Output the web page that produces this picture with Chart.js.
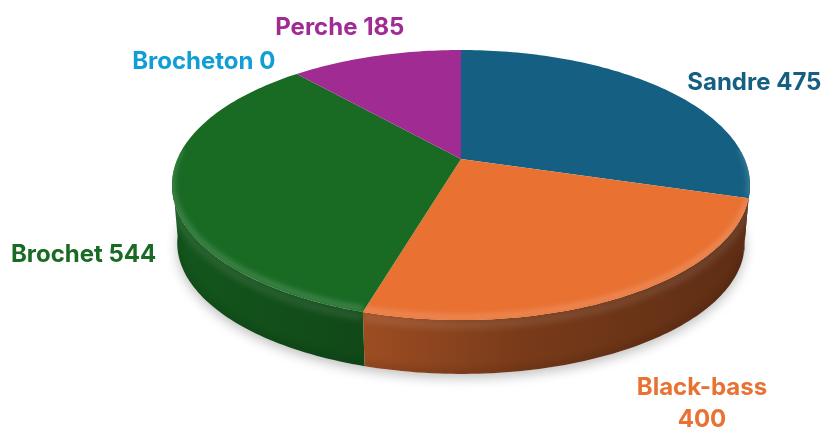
<!DOCTYPE html>
<html><head><meta charset="utf-8">
<script src="https://cdn.jsdelivr.net/npm/chart.js@4.4.0/dist/chart.umd.min.js"></script>
<style>html,body{margin:0;padding:0;background:#fff}canvas{display:block}</style>
</head><body>
<canvas id="c" width="824" height="428"></canvas>
<script>
// ---- data ----
const categories = ['Sandre', 'Black-bass', 'Brochet', 'Brocheton', 'Perche'];
const values = [475, 400, 544, 0, 185];
const sliceColors = ['#156082', '#E97132', '#196B24', '#0F9ED5', '#A02B93'];

// ---- style / layout ----
const labelWrap = [false, true, false, false, false];
const labelNudge = [[89.5, -8], [78, 106], [-88.5, 65], [-93, -13], [-36, -29.5]];
const BETA = -0.193;          // perspective shift of the pie centre
const DEPTH = 58;             // thickness of the pie
const BOT_SX = 0.982, BOT_SY = 0.97;
const FONT = 'bold 24px Inter, "Open Sans", sans-serif';

function rgb(hex){ const n=parseInt(hex.slice(1),16); return [(n>>16)&255,(n>>8)&255,n&255]; }
function shade(hex,f){ const c=rgb(hex); return 'rgb('+c.map(v=>Math.round(v*f)).join(',')+')'; }
function lighten(hex,f){ const c=rgb(hex); return 'rgb('+c.map(v=>Math.round(v+(255-v)*f)).join(',')+')'; }

function geom(chart){
  const a = chart.chartArea;
  return {cx:(a.left+a.right)/2, cy:(a.top+a.bottom)/2, rx:(a.right-a.left)/2, ry:(a.bottom-a.top)/2};
}
function proj(g, ang, k, bottom, dy){
  const u = k*Math.cos(ang), w = k*Math.sin(ang);
  const d = 1 + BETA*w;
  const X = u*Math.sqrt(1-BETA*BETA)/d, Y = (w+BETA)/d;
  if (bottom) return [g.cx + X*g.rx*BOT_SX, g.cy + DEPTH + Y*g.ry*BOT_SY];
  return [g.cx + X*g.rx, g.cy + Y*g.ry + (dy||0)];
}
function rimPts(g, s, e, k, bottom, dy){
  const n = Math.max(2, Math.ceil(Math.abs(e-s)/0.02));
  const pts = [];
  for (let i=0;i<=n;i++){ pts.push(proj(g, s+(e-s)*i/n, k, bottom, dy)); }
  return pts;
}
function poly(ctx, pts, start){
  pts.forEach((p,j)=> (j||!start)?ctx.lineTo(p[0],p[1]):ctx.moveTo(p[0],p[1]));
}

const pie3d = {
  id: 'pie3d',
  beforeDatasetsDraw(chart){
    const ctx = chart.ctx;
    const g = geom(chart);
    const arcs = chart.getDatasetMeta(0).data;
    const a0 = Math.asin(-BETA), a1 = Math.PI - a0;

    // shadow under the pie
    ctx.save();
    ctx.shadowColor = 'rgba(0,0,0,0.25)';
    ctx.shadowBlur = 12;
    ctx.shadowOffsetY = 4;
    ctx.fillStyle = '#fff';
    ctx.beginPath();
    poly(ctx, rimPts(g, -Math.PI/2, 3*Math.PI/2, 1, true), true);
    ctx.closePath();
    ctx.fill();
    ctx.restore();

    // side walls
    arcs.forEach((arc, i) => {
      const s = Math.max(arc.startAngle, a0 - 0.05), e = Math.min(arc.endAngle, a1 + 0.05);
      if (e <= s) return;
      const col = sliceColors[i];
      const grad = ctx.createLinearGradient(g.cx-g.rx, 0, g.cx+g.rx, 0);
      grad.addColorStop(0, shade(col, 0.80));
      grad.addColorStop(0.33, shade(col, 0.68));
      grad.addColorStop(0.6, shade(col, 0.52));
      grad.addColorStop(1, shade(col, 0.40));
      const top = rimPts(g, s, e, 1, false), bot = rimPts(g, s, e, 1, true).reverse();
      ctx.save();
      ctx.beginPath();
      poly(ctx, top.concat(bot), true);
      ctx.closePath();
      ctx.fillStyle = grad;
      ctx.fill();
      ctx.clip();
      ctx.filter = 'blur(3px)';
      ctx.strokeStyle = 'rgba(255,255,255,0.10)';
      ctx.lineWidth = 8;
      ctx.beginPath();
      poly(ctx, rimPts(g, s, e, 1, false, 5), true);
      ctx.stroke();
      ctx.strokeStyle = 'rgba(0,0,0,0.12)';
      ctx.lineWidth = 6;
      ctx.beginPath();
      poly(ctx, rimPts(g, s, e, 1, true).map(p=>[p[0],p[1]-2]), true);
      ctx.stroke();
      ctx.restore();
    });

    // top faces
    const apex = proj(g, 0, 0, false);
    arcs.forEach((arc, i) => {
      if (arc.endAngle - arc.startAngle <= 0) return;
      ctx.beginPath();
      ctx.moveTo(apex[0], apex[1]);
      poly(ctx, rimPts(g, arc.startAngle, arc.endAngle, 1, false), false);
      ctx.closePath();
      ctx.fillStyle = sliceColors[i];
      ctx.fill();
    });

    // bevel highlight on front rim of the top face
    arcs.forEach((arc, i) => {
      const s = Math.max(arc.startAngle, a0 - 0.25), e = Math.min(arc.endAngle, a1 + 0.25);
      if (e <= s) return;
      ctx.save();
      ctx.beginPath();
      ctx.moveTo(apex[0], apex[1]);
      poly(ctx, rimPts(g, arc.startAngle, arc.endAngle, 1, false), false);
      ctx.closePath();
      ctx.clip();
      ctx.filter = 'blur(2.5px)';
      ctx.strokeStyle = lighten(sliceColors[i], 0.16);
      ctx.lineWidth = 6;
      ctx.beginPath();
      poly(ctx, rimPts(g, s, e, 1, false, -3), true);
      ctx.stroke();
      ctx.restore();
    });

    // labels
    ctx.save();
    ctx.font = FONT;
    ctx.textAlign = 'center';
    ctx.textBaseline = 'middle';
    arcs.forEach((arc, i) => {
      const mid = (arc.startAngle + arc.endAngle)/2;
      const p = proj(g, mid, 1, false);
      const text = categories[i] + ' ' + values[i];
      const lines = labelWrap[i] ? [categories[i], String(values[i])] : [text];
      const lh = 32;
      const x = p[0] + labelNudge[i][0];
      const y0 = p[1] + labelNudge[i][1] - (lines.length-1)*lh/2;
      ctx.fillStyle = sliceColors[i];
      lines.forEach((t, j) => ctx.fillText(t, x, y0 + j*lh + 1));
    });
    ctx.restore();
    return false;
  }
};

new Chart(document.getElementById('c'), {
  type: 'pie',
  data: {
    labels: categories,
    datasets: [{ data: values, backgroundColor: sliceColors, borderWidth: 0 }]
  },
  options: {
    responsive: false,
    animation: false,
    events: [],
    layout: { padding: { left: 172, right: 74, top: 50, bottom: 108 } },
    plugins: { legend: { display: false }, tooltip: { enabled: false } }
  },
  plugins: [pie3d]
});
</script>
</body></html>
